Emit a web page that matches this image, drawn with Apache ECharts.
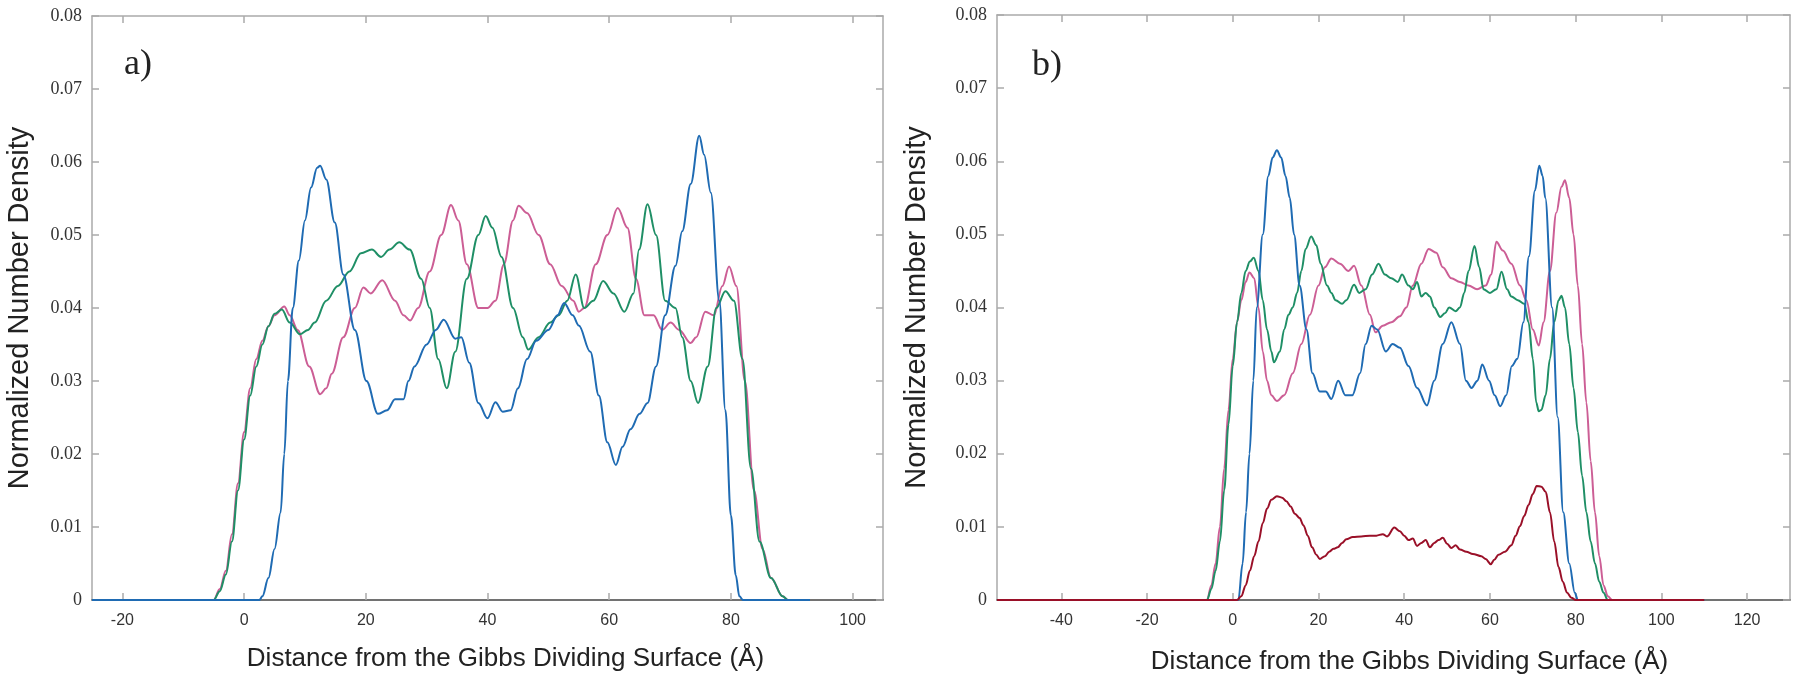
<!DOCTYPE html>
<html>
<head>
<meta charset="utf-8">
<script src="https://cdn.jsdelivr.net/npm/echarts@6.0.0/dist/echarts.min.js"></script>
<style>
html,body{margin:0;padding:0;background:#fff;}
#chart{width:1800px;height:674px;}
</style>
</head>
<body>
<div id="chart"></div>
<script>
// ---- tick labels ----
const xTicksA = [-20, 0, 20, 40, 60, 80, 100];
const xTicksB = [-40, -20, 0, 20, 40, 60, 80, 100, 120];
const xTitle = 'Distance from the Gibbs Dividing Surface (Å)';
const yTitle = 'Normalized Number Density';

// ---- panel a) series: [distance Å, density] ----
const blueA = [[-25,0],[2.5,0],[3,0.0005],[4,0.003],[5,0.007],[6,0.012],[6.6,0.02],[7.2,0.03],[8,0.04],[9,0.0465],[10,0.052],[11,0.0565],[12,0.0592],[12.5,0.0595],[13.5,0.0576],[14.9,0.0517],[16.3,0.0446],[18.2,0.037],[20.1,0.030],[22,0.0255],[23.5,0.026],[24.8,0.0275],[26.2,0.0275],[27,0.030],[28,0.032],[30,0.035],[31.5,0.037],[32.8,0.0384],[34.7,0.0358],[35.7,0.036],[37,0.0325],[38.5,0.027],[40,0.0249],[41.3,0.0271],[42.5,0.0258],[43.8,0.026],[45,0.029],[46.5,0.033],[48,0.0355],[50,0.037],[51.5,0.039],[52.6,0.0407],[54,0.039],[55,0.0376],[56.9,0.034],[58.3,0.028],[59.7,0.0216],[61.1,0.0185],[62.2,0.021],[63.5,0.0234],[65,0.0255],[66.3,0.027],[67.7,0.032],[69.2,0.039],[70.9,0.0458],[72,0.0505],[73.4,0.057],[74.8,0.0636],[75.6,0.061],[76.7,0.0558],[78.1,0.041],[79.1,0.026],[80,0.0116],[80.8,0.0034],[81.4,0.0005],[82,0],[93,0]];
const pinkA = [[-25,0],[-5,0],[-4,0.0015],[-3,0.004],[-2,0.009],[-1,0.016],[0,0.023],[1,0.029],[2,0.033],[3,0.0355],[4,0.0375],[5,0.039],[6.6,0.0402],[7.5,0.039],[8.8,0.037],[10.7,0.032],[12.5,0.0282],[13.5,0.029],[14.4,0.031],[16.3,0.036],[18.2,0.040],[19.6,0.0428],[20.8,0.042],[22.7,0.0438],[24.8,0.041],[26.2,0.039],[27.3,0.0383],[28.6,0.040],[30.5,0.045],[32.4,0.050],[34,0.0541],[35.2,0.052],[36.6,0.046],[38.5,0.040],[40,0.040],[41.3,0.041],[42.7,0.046],[44.2,0.052],[45.1,0.054],[46.5,0.053],[48.4,0.050],[50.3,0.046],[52.2,0.043],[54.1,0.041],[55,0.0395],[55.9,0.040],[57.8,0.046],[59.7,0.050],[61.4,0.0537],[63,0.051],[64.4,0.044],[65.8,0.039],[67.3,0.039],[68.7,0.037],[70.1,0.038],[71.5,0.037],[73.4,0.0352],[74.3,0.036],[75.8,0.0395],[77.2,0.039],[78.6,0.043],[79.7,0.0457],[80.9,0.043],[82.3,0.030],[83.8,0.015],[85.2,0.007],[86.6,0.003],[88.5,0.0005],[89.4,0],[93,0]];
const greenA = [[-25,0],[-5,0],[-4,0.0012],[-3,0.0035],[-2,0.008],[-1,0.015],[0,0.022],[1,0.028],[2,0.032],[3,0.035],[4,0.0375],[5,0.0392],[6.2,0.0398],[7.5,0.038],[9.2,0.0364],[10.5,0.037],[11.6,0.038],[13.5,0.041],[15.4,0.043],[17.3,0.045],[19.2,0.0475],[21,0.048],[22.5,0.047],[23.9,0.048],[25.5,0.049],[27.2,0.048],[29.1,0.044],[30.5,0.040],[31.9,0.033],[33.3,0.029],[34.7,0.034],[36.6,0.044],[38.5,0.050],[39.7,0.0526],[40.8,0.051],[42.3,0.047],[44.2,0.040],[45.8,0.036],[46.7,0.0343],[48.4,0.036],[50.3,0.038],[51.7,0.039],[53.1,0.041],[54.5,0.0446],[55.9,0.040],[57.4,0.041],[59,0.0437],[60.7,0.042],[62.5,0.0395],[64,0.042],[64.9,0.048],[66.3,0.0542],[67.7,0.050],[69.2,0.041],[70.9,0.040],[72,0.036],[73.4,0.030],[74.6,0.027],[76.2,0.032],[77.6,0.040],[79.1,0.0423],[80.5,0.041],[81.9,0.033],[83.3,0.018],[84.7,0.008],[86.6,0.003],[88.5,0.0005],[89.4,0],[93,0]];

// ---- panel b) series ----
const blueB = [[-55,0],[1.3,0],[2.3,0.005],[3.1,0.012],[3.9,0.02],[4.8,0.03],[5.6,0.04],[7,0.05],[8.3,0.058],[9.3,0.0605],[10.3,0.0615],[11.3,0.0605],[12.3,0.058],[13.3,0.055],[14.3,0.050],[15.6,0.043],[17.2,0.037],[18.6,0.031],[20.3,0.0285],[21.7,0.0285],[23,0.0275],[24.6,0.030],[26.3,0.028],[27.9,0.028],[29.7,0.031],[31,0.035],[32.4,0.0375],[33.7,0.037],[35.7,0.034],[37.3,0.035],[39,0.0345],[41,0.032],[43,0.029],[45.3,0.0266],[47,0.030],[49,0.035],[51,0.038],[53,0.035],[54.4,0.030],[55.7,0.029],[57.1,0.030],[58.2,0.0322],[59.8,0.030],[61.1,0.028],[62.4,0.0265],[63.8,0.028],[65.1,0.032],[66.4,0.033],[67.8,0.038],[69.1,0.047],[70.5,0.056],[71.5,0.0594],[72.3,0.058],[72.9,0.055],[74.5,0.040],[75.8,0.025],[77.1,0.012],[78.5,0.005],[79.8,0.001],[80.5,0],[110,0]];
const pinkB = [[-55,0],[-6,0],[-5,0.002],[-4,0.005],[-3,0.01],[-2,0.018],[-1,0.026],[0,0.033],[1,0.038],[2,0.041],[3,0.0435],[3.9,0.0448],[5,0.044],[6,0.040],[7,0.034],[8,0.030],[9,0.028],[10.3,0.0272],[12,0.028],[14,0.031],[16,0.035],[18,0.039],[20,0.043],[21.5,0.0455],[23,0.0467],[25,0.046],[27,0.045],[28.3,0.0457],[30,0.043],[32,0.039],[33.3,0.0366],[35,0.0375],[37,0.038],[39,0.0388],[40.5,0.040],[42,0.043],[44,0.046],[45.7,0.048],[47.5,0.0475],[49,0.0455],[51,0.044],[53,0.0435],[55,0.043],[57,0.0425],[59,0.043],[60.3,0.0445],[61.5,0.049],[63,0.0478],[65,0.046],[67,0.043],[68.5,0.041],[70,0.037],[71.4,0.0348],[72.5,0.038],[74,0.045],[75.5,0.053],[76.7,0.0565],[77.5,0.0574],[78.5,0.055],[79.5,0.050],[80.5,0.043],[81.5,0.035],[82.5,0.027],[83.5,0.019],[84.5,0.012],[85.5,0.006],[86.5,0.002],[87.5,0.0005],[88.5,0],[110,0]];
const greenB = [[-55,0],[-6,0],[-5,0.0015],[-4,0.004],[-3,0.008],[-2,0.015],[-1,0.024],[0,0.032],[1,0.038],[2,0.042],[3,0.045],[4,0.0463],[4.9,0.0468],[6,0.045],[7,0.041],[8,0.037],[9,0.034],[9.6,0.0325],[11,0.034],[12,0.037],[13,0.039],[14,0.040],[15,0.042],[16,0.045],[17,0.048],[18.3,0.0497],[19.5,0.0485],[20.5,0.046],[22,0.043],[23,0.042],[24,0.041],[25.5,0.0405],[26.5,0.041],[28.3,0.0431],[29.5,0.042],[31,0.0425],[32.5,0.0445],[34,0.046],[35.5,0.0445],[37,0.044],[38.5,0.0435],[39.5,0.0445],[41,0.043],[42,0.0425],[43,0.0435],[44,0.0415],[45,0.042],[46,0.0415],[47,0.040],[48.4,0.0387],[49.5,0.0392],[50.5,0.040],[52,0.0395],[53,0.040],[54,0.042],[55,0.045],[56.4,0.0484],[57.5,0.0455],[58.5,0.0425],[60,0.042],[61.5,0.0425],[62.7,0.0449],[64,0.0425],[65,0.0415],[66.5,0.041],[68,0.0405],[69,0.038],[70,0.033],[70.8,0.027],[71.4,0.0258],[72,0.026],[73,0.028],[74,0.033],[75,0.038],[76,0.041],[76.7,0.0416],[77.5,0.040],[78.5,0.035],[79.5,0.029],[80.5,0.023],[81.5,0.017],[82.5,0.012],[83.5,0.008],[84.5,0.005],[85.5,0.0025],[86.5,0.001],[87.5,0],[110,0]];
const redB = [[-55,0],[1,0],[2,0.0005],[3,0.002],[4,0.004],[5,0.006],[6,0.008],[7,0.0105],[8,0.0125],[9,0.0137],[10.3,0.0142],[11.5,0.014],[12.5,0.0135],[13.5,0.0128],[14.5,0.0118],[15.6,0.0112],[16.5,0.0102],[17.5,0.0088],[18.5,0.0072],[19.5,0.0062],[20.3,0.0056],[21.5,0.006],[22.5,0.0066],[23.5,0.007],[24.5,0.0072],[25.5,0.0078],[26.5,0.0083],[28,0.0086],[30,0.0087],[32,0.0088],[33.5,0.0088],[35,0.009],[36,0.0087],[37.7,0.0099],[39,0.0094],[40,0.0088],[41,0.0082],[42,0.0084],[43,0.0074],[44,0.0078],[45,0.0082],[46,0.0072],[47,0.0078],[48,0.0082],[49,0.0085],[50,0.0077],[51,0.0071],[52,0.0075],[53,0.0069],[54.5,0.0066],[56,0.0063],[58,0.006],[59,0.0056],[60.2,0.0049],[61,0.0055],[62,0.0062],[63.5,0.0066],[65,0.0075],[66,0.0088],[67,0.0101],[68,0.0115],[69,0.013],[70,0.0145],[70.9,0.0156],[72,0.0155],[73,0.0148],[74,0.012],[75,0.008],[76,0.0045],[77,0.0025],[78,0.001],[79,0.0003],[80,0],[110,0]];

const C = { blue:'#1f6bb3', pink:'#cc5e95', green:'#1f8f66', red:'#9a1028' };

function xAxes(grid, min, max, ticks, shift, gap){
  return [
    { gridIndex:grid, type:'value', min:min, max:max, position:'bottom',
      axisLine:{show:true, onZero:false, lineStyle:{color:'#444', width:1.5}},
      axisTick:{show:true, inside:true, length:7, customValues:ticks, lineStyle:{color:'#aaa', width:1.5}},
      axisLabel:{customValues:ticks, fontSize:16, color:'#333', margin:13, fontFamily:'Liberation Sans'},
      splitLine:{show:false},
      name:xTitle, nameLocation:'middle', nameGap:gap,
      nameTextStyle:{fontSize:26, color:'#222', fontFamily:'Liberation Sans', padding:[0,0,0,shift]} },
    { gridIndex:grid, type:'value', min:min, max:max, position:'top',
      axisLine:{show:true, onZero:false, lineStyle:{color:'#aaa', width:1.5}},
      axisTick:{show:true, inside:true, length:7, customValues:ticks, lineStyle:{color:'#aaa', width:1.5}},
      axisLabel:{show:false}, splitLine:{show:false} }
  ];
}
function yAxes(grid, gap){
  return [
    { gridIndex:grid, type:'value', min:0, max:0.08, interval:0.01, position:'left',
      axisLine:{show:true, onZero:false, lineStyle:{color:'#aaa', width:1.5}},
      axisTick:{show:true, inside:true, length:7, lineStyle:{color:'#aaa', width:1.5}},
      axisLabel:{fontSize:18, color:'#333', margin:10, fontFamily:'Liberation Serif',
        formatter:v => v === 0 ? '0' : v.toFixed(2)},
      splitLine:{show:false},
      name:yTitle, nameLocation:'middle', nameGap:gap,
      nameTextStyle:{fontSize:29, color:'#222', fontFamily:'Liberation Sans'} },
    { gridIndex:grid, type:'value', min:0, max:0.08, interval:0.01, position:'right',
      axisLine:{show:true, onZero:false, lineStyle:{color:'#aaa', width:1.5}},
      axisTick:{show:true, inside:true, length:7, lineStyle:{color:'#aaa', width:1.5}},
      axisLabel:{show:false}, splitLine:{show:false} }
  ];
}
function line(data, color, xi, yi){
  return { type:'line', data:data, xAxisIndex:xi, yAxisIndex:yi, showSymbol:false, symbol:'none',
    smooth:0.35, smoothMonotone:'x', lineStyle:{color:color, width:2}, itemStyle:{color:color} };
}

const chart = echarts.init(document.getElementById('chart'), null, {renderer:'canvas'});
chart.setOption({
  animation:false,
  backgroundColor:'#fff',
  grid:[ {left:92, right:917, top:16, bottom:74, containLabel:false, outerBoundsMode:'none'},
         {left:997, right:10, top:15, bottom:74, containLabel:false, outerBoundsMode:'none'} ],
  xAxis:[ ...xAxes(0, -25, 105, xTicksA, 36, 46), ...xAxes(1, -55, 130, xTicksB, 32, 49) ],
  yAxis:[ ...yAxes(0, 58), ...yAxes(1, 66) ],
  graphic:[
    { type:'text', left:124, top:47, style:{text:'a)', font:'36px "Liberation Serif"', fill:'#222'} },
    { type:'text', left:1032, top:48, style:{text:'b)', font:'36px "Liberation Serif"', fill:'#222'} }
  ],
  series:[
    line(pinkA, C.pink, 0, 0), line(greenA, C.green, 0, 0), line(blueA, C.blue, 0, 0),
    line(pinkB, C.pink, 2, 2), line(greenB, C.green, 2, 2), line(blueB, C.blue, 2, 2), line(redB, C.red, 2, 2)
  ]
});
</script>
</body>
</html>
